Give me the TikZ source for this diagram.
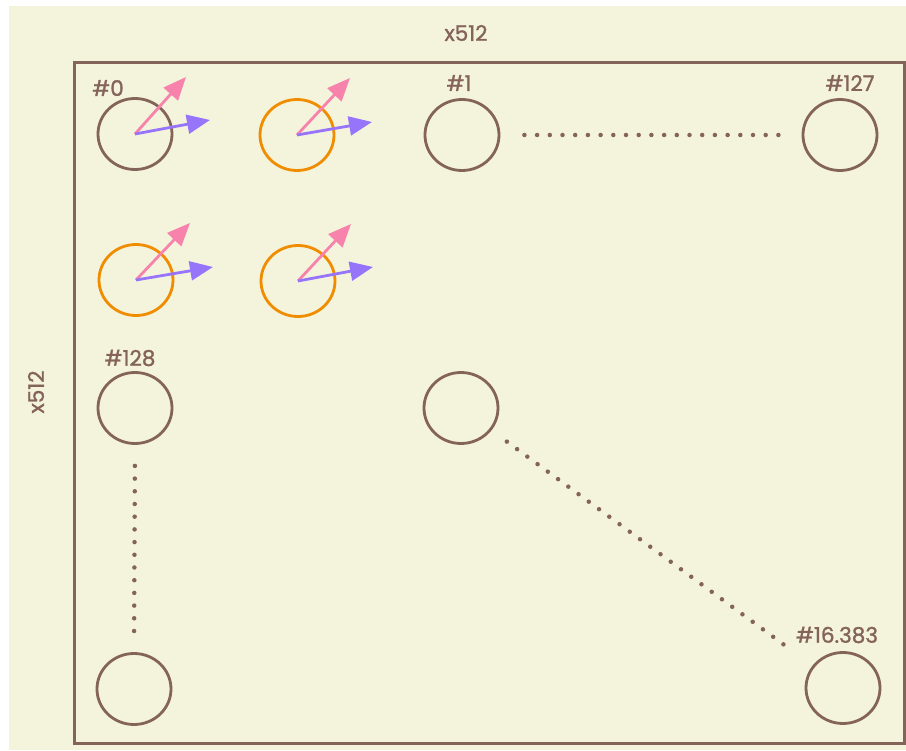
\documentclass[tikz,border=0pt]{standalone}
\usepackage{fontspec}
\setmainfont{Poppins}
\newfontfamily\lblfont{Poppins}[FakeBold=1.3]
\usetikzlibrary{arrows.meta,shapes.geometric}
\definecolor{bg}{HTML}{F4F4DC}
\definecolor{brn}{HTML}{846358}
\definecolor{org}{HTML}{F08C00}
\definecolor{pnk}{HTML}{F783AC}
\definecolor{prp}{HTML}{9775FA}
\tikzset{
  cell/.style={ellipse, draw=brn, line width=2.8pt, minimum width=74pt, minimum height=71pt, inner sep=0pt},
  hot/.style={cell, draw=org},
  lbl/.style={text=brn, font=\lblfont\fontsize{21.5}{24}\selectfont, inner sep=0pt},
  vec/.style={line width=2.8pt, -{Triangle[length=23pt,width=19pt]}},
  dots/.style={draw=brn, line width=4.5pt, line cap=round, dash pattern=on 0pt off 12.7pt},
}
\begin{document}
\begin{tikzpicture}[x=1pt,y=-1pt]
\useasboundingbox (0,0) rectangle (906,751);
\fill[white] (0,0) rectangle (906,751);
\fill[bg] (9,6) rectangle (906,750);
\node[draw=brn, line width=2.8pt, minimum width=830pt, minimum height=681pt, inner sep=0pt, anchor=north west] (grid) at (73,61) {};
\node[lbl] (top) at (466,33) {x512};
\node[lbl, rotate=90] (left) at (36,392) {x512};
% circles
\node[cell] (c0) at (135,134) {};
\node[hot] (h1) at (297,135) {};
\node[hot] (h2) at (136,280) {};
\node[hot] (h3) at (298,281) {};
\node[cell] (c1) at (462,135) {};
\node[cell] (c127) at (840,135) {};
\node[cell] (c128) at (135,408) {};
\node[cell] (cm) at (461,408) {};
\node[cell] (cbl) at (134,689) {};
\node[cell] (cend) at (843,688) {};
% labels
\node[lbl] (l0) at (108,88) {\#0};
\node[lbl] (l1) at (459,83) {\#1};
\node[lbl] (l127) at (850,83) {\#127};
\node[lbl] (l128) at (130,358) {\#128};
\node[lbl] (lend) at (837,635) {\#16.383};
% vectors
\coordinate (p0) at (186,77); \coordinate (q0) at (210,120);
\coordinate (p1) at (350,78); \coordinate (q1) at (372,122);
\coordinate (p2) at (190,223); \coordinate (q2) at (213,267);
\coordinate (p3) at (351,224); \coordinate (q3) at (373,267);
\draw[vec, pnk] (c0.center) -- (p0);
\draw[vec, prp] (c0.center) -- (q0);
\draw[vec, pnk] (h1.center) -- (p1);
\draw[vec, prp] (h1.center) -- (q1);
\draw[vec, pnk] (h2.center) -- (p2);
\draw[vec, prp] (h2.center) -- (q2);
\draw[vec, pnk] (h3.center) -- (p3);
\draw[vec, prp] (h3.center) -- (q3);
% dotted connectors
\draw[dots, shorten <=24pt, shorten >=17pt] (c1.east) -- (c127.west);
\draw[dots, shorten <=21pt, shorten >=19pt] (c128.south) -- (cbl.north);
\draw[dots, shorten <=19pt, shorten >=28pt] (cm) -- (cend);
\end{tikzpicture}
\end{document}
